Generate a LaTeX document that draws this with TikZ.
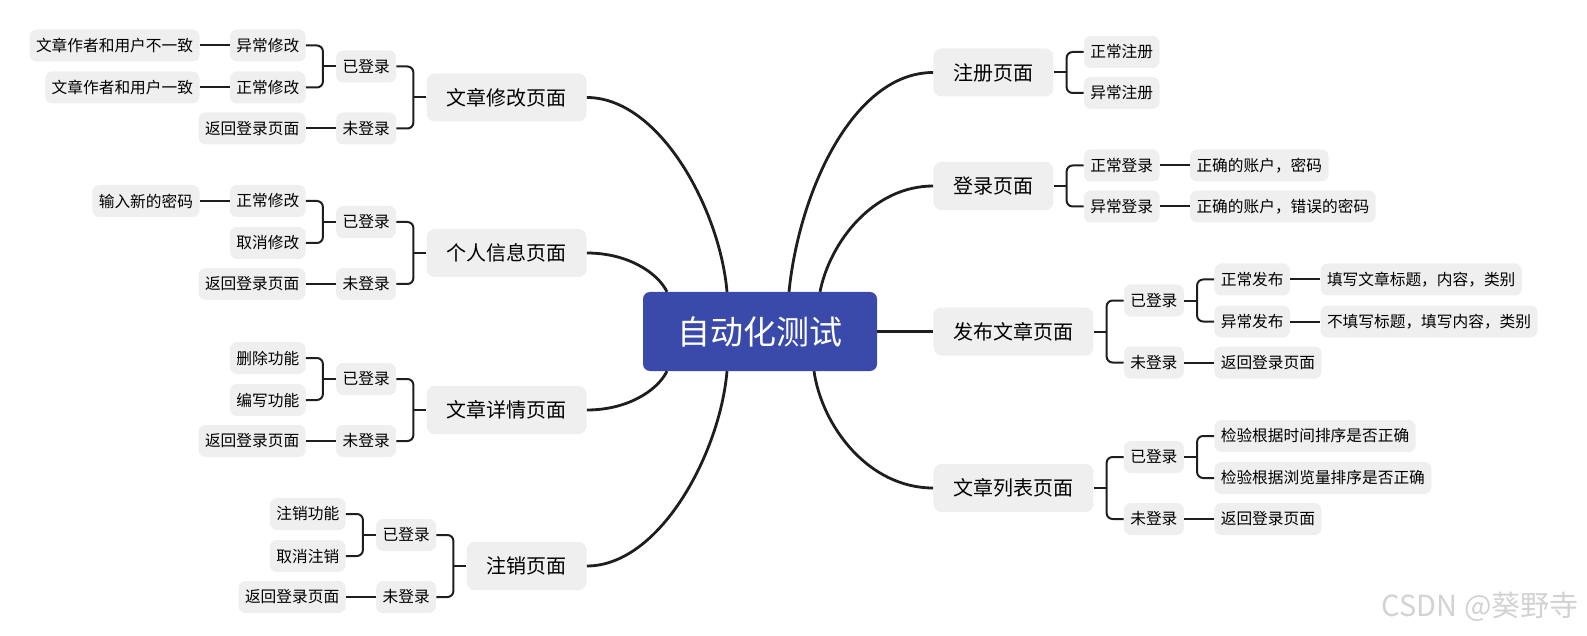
\documentclass[tikz,border=0pt]{standalone}
\usepackage{fontspec}
\setmainfont{Noto Sans CJK SC}
\usetikzlibrary{positioning}
\definecolor{hubblue}{RGB}{58,74,171}
\definecolor{boxgray}{RGB}{239,239,239}
\definecolor{ink}{RGB}{30,30,30}
\begin{document}
\begin{tikzpicture}[x=1pt,y=1pt,
	hub/.style={fill=hubblue, text=white, rounded corners=7pt, minimum width=234pt, minimum height=79pt, font=\fontsize{33}{40}\selectfont},
	topic/.style={fill=boxgray, rounded corners=8pt, inner xsep=20pt, inner ysep=0pt, minimum height=48pt, font=\fontsize{20}{24}\selectfont},
	leaf/.style={fill=boxgray, rounded corners=7pt, inner xsep=6.5pt, inner ysep=0pt, minimum height=32pt, font=\fontsize{15.7}{19}\selectfont},
	trunk/.style={draw=ink, line width=2.8pt},
	branch/.style={draw=ink, line width=2pt, rounded corners=6pt}]
		\useasboundingbox (0,0) rectangle (1587,-636);
		\node (c0) [hub] at (760,-331.5) {自动化测试};
		% right side
		\node (r1) [topic, right=56pt of c0, yshift=259pt] {注册页面};
		\node (r2) [topic, right=56pt of c0, yshift=145.5pt] {登录页面};
		\node (r3) [topic, right=56pt of c0] {发布文章页面};
		\node (r4) [topic, right=56pt of c0, yshift=-156.5pt] {文章列表页面};
		\node (r1a) [leaf, right=30pt of r1, yshift=20.5pt] {正常注册};
		\node (r1b) [leaf, right=30pt of r1, yshift=-20.5pt] {异常注册};
		\node (r2a) [leaf, right=30pt of r2, yshift=20.5pt] {正常登录};
		\node (r2b) [leaf, right=30pt of r2, yshift=-20.5pt] {异常登录};
		\node (r2c) [leaf, right=30pt of r2a] {正确的账户，密码};
		\node (r2d) [leaf, right=30pt of r2b] {正确的账户，错误的密码};
		\node (r3a) [leaf, right=30pt of r3, yshift=31pt] {已登录};
		\node (r3b) [leaf, right=30pt of r3, yshift=-31pt] {未登录};
		\node (r3c) [leaf, right=30pt of r3a, yshift=21pt] {正常发布};
		\node (r3d) [leaf, right=30pt of r3a, yshift=-21pt] {异常发布};
		\node (r3e) [leaf, right=30pt of r3c] {填写文章标题，内容，类别};
		\node (r3f) [leaf, right=30pt of r3d] {不填写标题，填写内容，类别};
		\node (r3g) [leaf, right=30pt of r3b] {返回登录页面};
		\node (r4a) [leaf, right=30pt of r4, yshift=31pt] {已登录};
		\node (r4b) [leaf, right=30pt of r4, yshift=-31pt] {未登录};
		\node (r4c) [leaf, right=30pt of r4a, yshift=21pt] {检验根据时间排序是否正确};
		\node (r4d) [leaf, right=30pt of r4a, yshift=-21pt] {检验根据浏览量排序是否正确};
		\node (r4e) [leaf, right=30pt of r4b] {返回登录页面};
		% left side
		\node (l1) [topic, left=56pt of c0, yshift=234pt] {文章修改页面};
		\node (l2) [topic, left=56pt of c0, yshift=78.5pt] {个人信息页面};
		\node (l3) [topic, left=56pt of c0, yshift=-78.5pt] {文章详情页面};
		\node (l4) [topic, left=56pt of c0, yshift=-234.5pt] {注销页面};
		\node (l1a) [leaf, left=30pt of l1, yshift=31pt] {已登录};
		\node (l1b) [leaf, left=30pt of l1, yshift=-31pt] {未登录};
		\node (l1c) [leaf, left=30pt of l1a, yshift=21pt] {异常修改};
		\node (l1d) [leaf, left=30pt of l1a, yshift=-21pt] {正常修改};
		\node (l1e) [leaf, left=30pt of l1c] {文章作者和用户不一致};
		\node (l1f) [leaf, left=30pt of l1d] {文章作者和用户一致};
		\node (l1g) [leaf, left=30pt of l1b] {返回登录页面};
		\node (l2a) [leaf, left=30pt of l2, yshift=31pt] {已登录};
		\node (l2b) [leaf, left=30pt of l2, yshift=-31pt] {未登录};
		\node (l2c) [leaf, left=30pt of l2a, yshift=21pt] {正常修改};
		\node (l2d) [leaf, left=30pt of l2a, yshift=-21pt] {取消修改};
		\node (l2e) [leaf, left=30pt of l2c] {输入新的密码};
		\node (l2g) [leaf, left=30pt of l2b] {返回登录页面};
		\node (l3a) [leaf, left=30pt of l3, yshift=31pt] {已登录};
		\node (l3b) [leaf, left=30pt of l3, yshift=-31pt] {未登录};
		\node (l3c) [leaf, left=30pt of l3a, yshift=21pt] {删除功能};
		\node (l3d) [leaf, left=30pt of l3a, yshift=-21pt] {编写功能};
		\node (l3g) [leaf, left=30pt of l3b] {返回登录页面};
		\node (l4a) [leaf, left=30pt of l4, yshift=31pt] {已登录};
		\node (l4b) [leaf, left=30pt of l4, yshift=-31pt] {未登录};
		\node (l4c) [leaf, left=30pt of l4a, yshift=21pt] {注销功能};
		\node (l4d) [leaf, left=30pt of l4a, yshift=-21pt] {取消注销};
		\node (l4g) [leaf, left=30pt of l4b] {返回登录页面};
		\node (wm) [anchor=east, text=gray!35, font=\fontsize{29}{34}\selectfont] at (1582,-607) {CSDN @葵野寺};
		% trunks
		\draw[trunk] ([xshift=-33pt]c0.north) .. controls +(-7,82) and +(73,0) .. (l1.east);
		\draw[trunk] ([xshift=-93pt]c0.north) .. controls +(-10,20) and +(40,0) .. (l2.east);
		\draw[trunk] ([xshift=-93pt]c0.south) .. controls +(-10,-20) and +(40,0) .. (l3.east);
		\draw[trunk] ([xshift=-33pt]c0.south) .. controls +(-7,-82) and +(73,0) .. (l4.east);
		\draw[trunk] ([xshift=29pt]c0.north) .. controls +(10,100) and +(-80,0) .. (r1.west);
		\draw[trunk] ([xshift=60pt]c0.north) .. controls +(10,50) and +(-60,0) .. (r2.west);
		\draw[trunk] (c0.east) -- (r3.west);
		\draw[trunk] ([xshift=54pt]c0.south) .. controls +(8,-55) and +(-65,0) .. (r4.west);
		% right brackets
		\draw[branch] (r1.east) -- ++(13,0);
		\draw[branch] (r1a.west) -| ([xshift=13pt]r1.east) |- (r1b.west);
		\draw[branch] (r2.east) -- ++(13,0);
		\draw[branch] (r2a.west) -| ([xshift=13pt]r2.east) |- (r2b.west);
		\draw[branch] (r2a.east) -- (r2c.west);
		\draw[branch] (r2b.east) -- (r2d.west);
		\draw[branch] (r3.east) -- ++(13,0);
		\draw[branch] (r3a.west) -| ([xshift=13pt]r3.east) |- (r3b.west);
		\draw[branch] (r3a.east) -- ++(13,0);
		\draw[branch] (r3c.west) -| ([xshift=13pt]r3a.east) |- (r3d.west);
		\draw[branch] (r3c.east) -- (r3e.west);
		\draw[branch] (r3d.east) -- (r3f.west);
		\draw[branch] (r3b.east) -- (r3g.west);
		\draw[branch] (r4.east) -- ++(13,0);
		\draw[branch] (r4a.west) -| ([xshift=13pt]r4.east) |- (r4b.west);
		\draw[branch] (r4a.east) -- ++(13,0);
		\draw[branch] (r4c.west) -| ([xshift=13pt]r4a.east) |- (r4d.west);
		\draw[branch] (r4b.east) -- (r4e.west);
		% left brackets
		\draw[branch] (l1.west) -- ++(-13,0);
		\draw[branch] (l1a.east) -| ([xshift=-13pt]l1.west) |- (l1b.east);
		\draw[branch] (l1a.west) -- ++(-13,0);
		\draw[branch] (l1c.east) -| ([xshift=-13pt]l1a.west) |- (l1d.east);
		\draw[branch] (l1c.west) -- (l1e.east);
		\draw[branch] (l1d.west) -- (l1f.east);
		\draw[branch] (l1b.west) -- (l1g.east);
		\draw[branch] (l2.west) -- ++(-13,0);
		\draw[branch] (l2a.east) -| ([xshift=-13pt]l2.west) |- (l2b.east);
		\draw[branch] (l2a.west) -- ++(-13,0);
		\draw[branch] (l2c.east) -| ([xshift=-13pt]l2a.west) |- (l2d.east);
		\draw[branch] (l2c.west) -- (l2e.east);
		\draw[branch] (l2b.west) -- (l2g.east);
		\draw[branch] (l3.west) -- ++(-13,0);
		\draw[branch] (l3a.east) -| ([xshift=-13pt]l3.west) |- (l3b.east);
		\draw[branch] (l3a.west) -- ++(-13,0);
		\draw[branch] (l3c.east) -| ([xshift=-13pt]l3a.west) |- (l3d.east);
		\draw[branch] (l3b.west) -- (l3g.east);
		\draw[branch] (l4.west) -- ++(-13,0);
		\draw[branch] (l4a.east) -| ([xshift=-13pt]l4.west) |- (l4b.east);
		\draw[branch] (l4a.west) -- ++(-13,0);
		\draw[branch] (l4c.east) -| ([xshift=-13pt]l4a.west) |- (l4d.east);
		\draw[branch] (l4b.west) -- (l4g.east);
\end{tikzpicture}
\end{document}
